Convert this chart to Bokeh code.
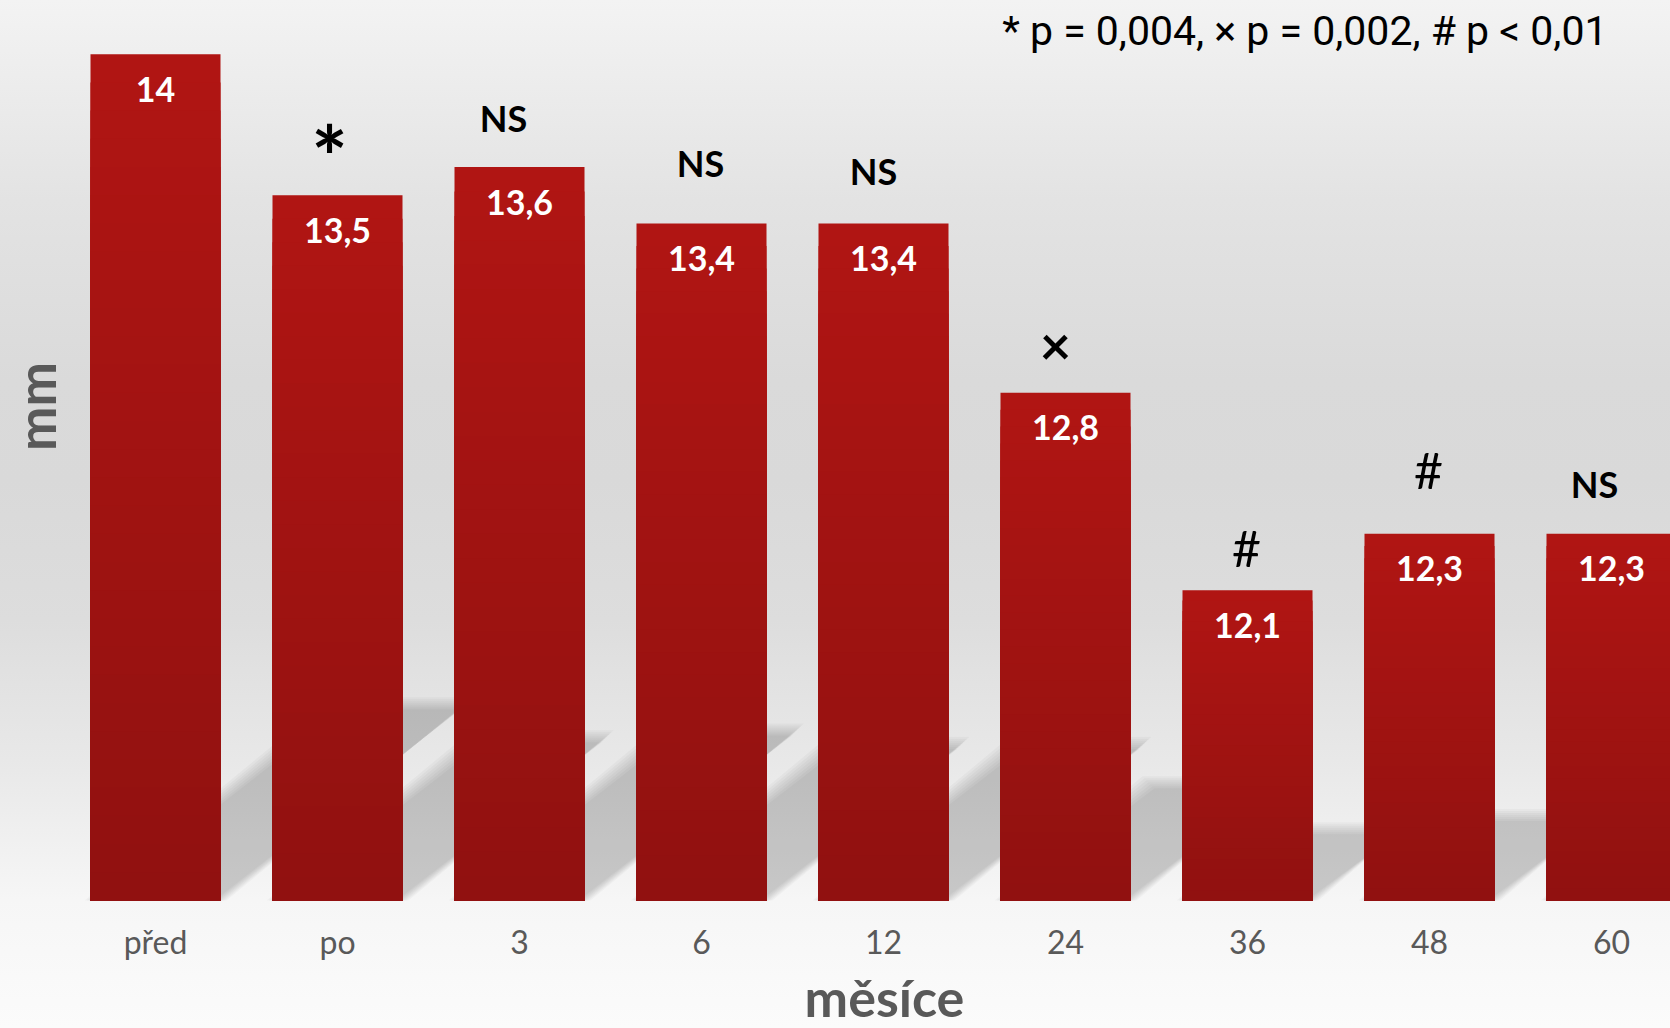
import numpy as np
from bokeh.plotting import figure
from bokeh.models import Range1d, Label, ColumnDataSource
from bokeh.core.properties import value
from bokeh.embed import file_html
from bokeh.resources import INLINE

# ---------------- data ----------------
categories = ["před", "po", "3", "6", "12", "24", "36", "48", "60"]
values = [14.0, 13.5, 13.6, 13.4, 13.4, 12.8, 12.1, 12.3, 12.3]
value_labels = ["14", "13,5", "13,6", "13,4", "13,4", "12,8", "12,1", "12,3", "12,3"]
markers = ["", "*", "NS", "NS", "NS", "×", "#", "#", "NS"]
note_text = "* p = 0,004, × p = 0,002, # p < 0,01"
x_title = "měsíce"
y_title = "mm"

# ---------------- layout / style ----------------
W, H = 1670, 1028
LEFT, BOTTOM = 64, 128          # pixel position of the bars' origin (left edge of first slot, baseline)
PX_PER_CAT = 182.0
PX_PER_UNIT = 282.1
BASE = 11.0
BAR_W = 130.0 / PX_PER_CAT
SHADOW_H = 0.233         # shadow height as fraction of bar height
SHADOW_SKEW = 1.25       # horizontal shift per pixel of shadow height
LABEL_SHIFT = 20         # compensation for Label text box placement (px)
marker_dx_px = [0, -8, -16, -1, -10, -10, -1, -1, -17]
marker_rise_px = [0, 40, 49, 60, 52, 48, 42, 64, 50]
marker_style = {"*": ("86px", "bold"), "NS": ("36px", "bold"),
                "×": ("54px", "bold"), "#": ("50px", "normal")}
FONT = "Lato"
TOP_COLOR = np.array([176, 21, 19])
BOT_COLOR = np.array([145, 17, 16])

x = [i + 0.5 for i in range(len(categories))]

p = figure(width=W, height=H,
           x_range=Range1d(-LEFT / PX_PER_CAT, (W - LEFT) / PX_PER_CAT),
           y_range=Range1d(BASE - BOTTOM / PX_PER_UNIT, BASE + (H - BOTTOM) / PX_PER_UNIT),
           output_backend="svg", toolbar_location=None,
           x_axis_location=None, y_axis_location=None,
           min_border=0)
p.styles = {"background": "linear-gradient(180deg, #f3f3f3 0px, #e3e3e3 200px, #dadada 380px, "
                          "#d9d9d9 480px, #dddddd 620px, #e8e8e8 760px, #f6f6f6 900px, #fbfbfb 1028px)"}
p.background_fill_alpha = 0
p.border_fill_alpha = 0
p.outline_line_color = None
p.xgrid.visible = False
p.ygrid.visible = False

# ---------------- shadows (soft edges from stacked translucent layers) ----------------
spread = np.linspace(-6, 6, 7)
for d in spread:
    sh_xs, sh_ys = [], []
    for xi, v in zip(x, values):
        h_px = (v - BASE) * PX_PER_UNIT * SHADOW_H
        dx = SHADOW_SKEW * h_px / PX_PER_CAT
        top = BASE + (v - BASE) * SHADOW_H + d / PX_PER_UNIT
        l = xi - BAR_W / 2 - d / PX_PER_CAT
        r = xi + BAR_W / 2 + d / PX_PER_CAT
        sh_xs.append([l, r, r + dx, l + dx])
        sh_ys.append([BASE, BASE, top, top])
    p.patches(sh_xs, sh_ys, fill_color="black", fill_alpha=0.2 / len(spread), line_color=None)

# ---------------- bars ----------------
src = ColumnDataSource(dict(x=x, top=values, cat=categories, lab=value_labels))
p.vbar(x="x", top="top", bottom=BASE, width=BAR_W, source=src,
       fill_color="#%02x%02x%02x" % tuple(TOP_COLOR), line_color=None)

# vertical gradient inside the bars (nested bands, darker toward the base)
N = 30
gx, gtop, gcol = [], [], []
for j in range(1, N):
    f = j / (N - 1)
    c = (TOP_COLOR + (BOT_COLOR - TOP_COLOR) * f).round().astype(int)
    for xi, v in zip(x, values):
        gx.append(xi)
        gtop.append(BASE + (v - BASE) * (1 - j / N))
        gcol.append("#%02x%02x%02x" % tuple(c))
p.vbar(x=gx, top=gtop, bottom=BASE, width=BAR_W, fill_color=gcol, line_color=None)

# value labels inside bars
p.text(x="x", y="top", text="lab", source=src, y_offset=35,
       text_align="center", text_baseline="middle",
       text_font=value(FONT), text_font_style="bold",
       text_font_size="34px", text_color="white")

# significance markers
for i, m in enumerate(markers):
    if not m:
        continue
    size, style = marker_style[m]
    p.text(x=[x[i]], y=[values[i]], text=[m],
           x_offset=marker_dx_px[i], y_offset=-marker_rise_px[i],
           text_align="center", text_baseline="middle",
           text_font=value(FONT), text_font_style=style,
           text_font_size=size, text_color="black")

# category (tick) labels under the bars
p.text(x="x", y=BASE, text="cat", source=src, y_offset=41,
       text_align="center", text_baseline="middle",
       text_font=value(FONT), text_font_size="32px", text_color="#595959")

# axis titles and note
p.add_layout(Label(x=884, y=H - 1016 + LABEL_SHIFT, x_units="screen", y_units="screen",
                   text=x_title, text_align="center", text_baseline="alphabetic",
                   text_font=FONT, text_font_style="bold", text_font_size="52px",
                   text_color="#595959"))
p.add_layout(Label(x=55 - LABEL_SHIFT, y=H - 406, x_units="screen", y_units="screen",
                   angle=np.pi / 2, text=y_title, text_align="center",
                   text_baseline="alphabetic",
                   text_font=FONT, text_font_style="bold", text_font_size="53px",
                   text_color="#595959"))
p.add_layout(Label(x=1607, y=H - 50 + LABEL_SHIFT, x_units="screen", y_units="screen",
                   text=note_text, text_align="right", text_baseline="alphabetic",
                   text_font="Roboto",
                   text_font_size="41px", text_color="black"))

open("out.html", "w").write(file_html(p, INLINE))
